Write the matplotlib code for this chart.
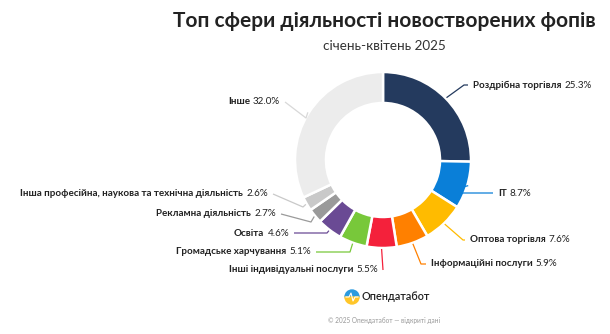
import numpy as np
import matplotlib.pyplot as plt
from matplotlib.patches import Wedge

plt.rcParams['font.family'] = ['Lato', 'DejaVu Sans']

names = ["Роздрібна торгівля", "IT", "Оптова торгівля", "Інформаційні послуги",
         "Інші індивідуальні послуги", "Громадське харчування", "Освіта",
         "Рекламна діяльність", "Інша професійна, наукова та технічна діяльність", "Інше"]
shares = [25.3, 8.7, 7.6, 5.9, 5.5, 5.1, 4.6, 2.7, 2.6, 32.0]
colors = ["#243a5e", "#0a7fd8", "#ffbb00", "#ff8000", "#f4213b", "#78c83a",
          "#6a4a94", "#9a9a9a", "#c9c9c9", "#ececec"]

W, H = 610, 334
fig = plt.figure(figsize=(W / 100, H / 100), dpi=100)
ax = fig.add_axes([0, 0, 1, 1])

def Y(y):
    # image rows go down, axes go up
    return H - y

cx, cy, R = 383, 160, 88
ax.pie(shares, colors=colors, startangle=90, counterclock=False,
       center=(cx, Y(cy)), radius=R, frame=True,
       wedgeprops=dict(width=31, edgecolor='white', linewidth=1.8))
ax.set_xlim(0, W)
ax.set_ylim(0, H)
ax.set_aspect('auto')
ax.axis('off')

# elbow point and label anchor per slice (pixels)
layout = [
    ((464, 85), (473, 85), 'left'),
    ((440, 193), (498, 193), 'left'),
    ((463, 240), (470, 240), 'left'),
    ((421, 264), (431, 264), 'left'),
    ((383, 270), (378, 270), 'right'),
    ((350, 252), (311, 252), 'right'),
    ((327, 233), (289, 233), 'right'),
    ((311, 222), (276, 214), 'right'),
    ((303, 207), (268, 194), 'right'),
    ((306, 118), (280, 102), 'right'),
]

fig.canvas.draw()
renderer = fig.canvas.get_renderer()
fs = 7.1

cum = np.cumsum([0] + shares)
for i, (name, val) in enumerate(zip(names, shares)):
    mid = np.deg2rad((cum[i] + val / 2) / 100 * 360)
    sx = cx + (R + 1) * np.sin(mid)
    sy = cy - (R + 1) * np.cos(mid)
    (ex, ey), (tx, ty), ha = layout[i]
    line_end = tx - 5 if ha == 'left' else tx + 5
    ax.plot([sx, ex, line_end], [Y(sy), Y(ey), Y(ty)], color=colors[i] if i != 9 else "#d8d8d8",
            lw=0.9, solid_capstyle='butt')
    pct = f"{val:.1f}%"
    if ha == 'left':
        t1 = ax.text(tx, Y(ty), name, fontsize=fs, fontweight='bold', ha='left', va='center', color='#222222')
        bb = t1.get_window_extent(renderer)
        ax.text(bb.x1 + 3, Y(ty), pct, fontsize=fs, ha='left', va='center', color='#222222')
    else:
        t2 = ax.text(tx, Y(ty), pct, fontsize=fs, ha='right', va='center', color='#222222')
        bb = t2.get_window_extent(renderer)
        ax.text(bb.x0 - 3, Y(ty), name, fontsize=fs, fontweight='bold', ha='right', va='center', color='#222222')

ax.text(384, Y(21), "Топ сфери діяльності новостворених фопів", fontsize=15, fontweight='bold',
        ha='center', va='center', color='#222222')
ax.text(384, Y(46), "січень-квітень 2025", fontsize=9.7, ha='center', va='center', color='#333333')

# logo
ax.add_patch(Wedge((352, Y(297)), 7, 0, 180, color='#2b9be0'))
ax.add_patch(Wedge((352, Y(297)), 7, 180, 360, color='#ffc629'))
ax.plot([346, 349, 351, 353, 355, 358], [Y(297), Y(297), Y(293), Y(301), Y(297), Y(297)],
        color='white', lw=0.8)
ax.text(361, Y(297), "Опендатабот", fontsize=7.8, fontweight='semibold', ha='left', va='center',
        color='#222222')
ax.text(384, Y(321), "© 2025 Опендатабот — відкриті дані", fontsize=4.7, ha='center', va='center',
        color='#999999')

plt.savefig("out.png", dpi=100)
